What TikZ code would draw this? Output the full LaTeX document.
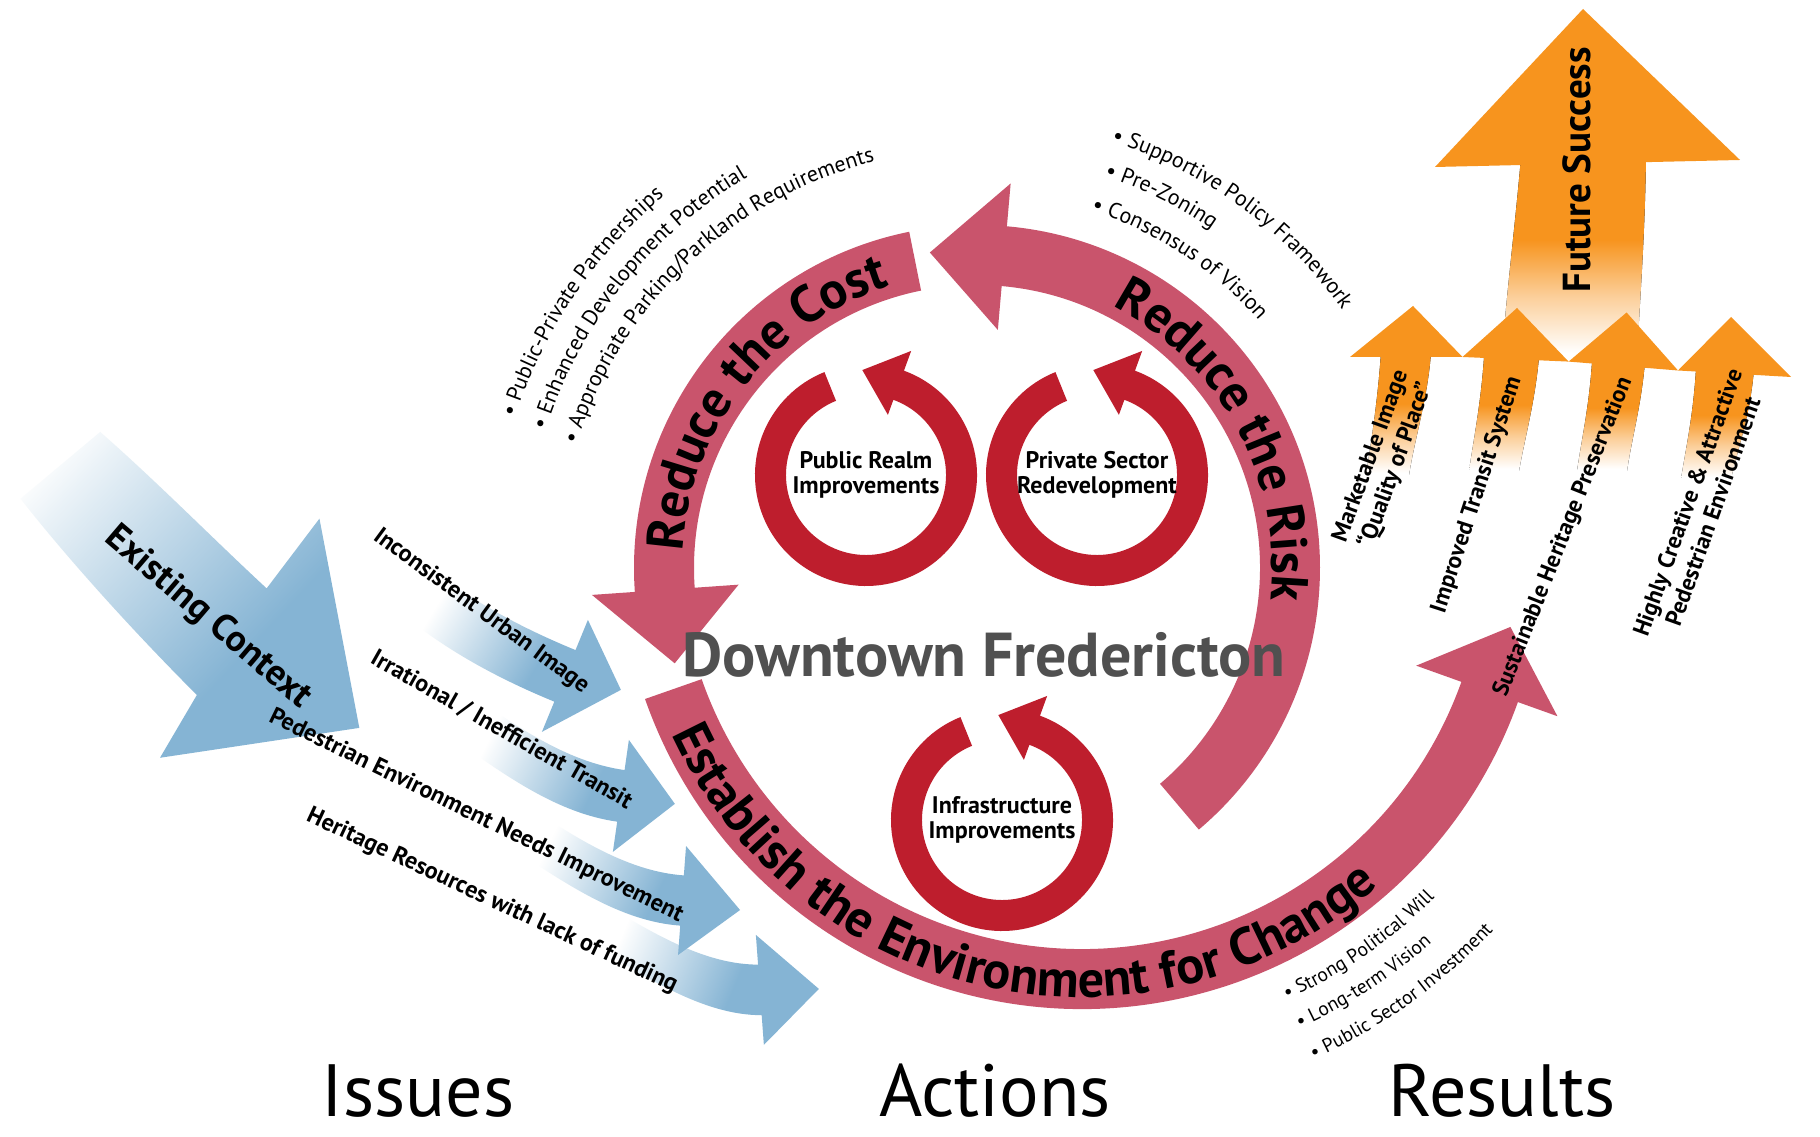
\documentclass[tikz,border=0pt]{standalone}
\usepackage{fontspec}
\setmainfont{PT Sans}
\usetikzlibrary{decorations.text,fadings}
\definecolor{pinkband}{RGB}{201,84,108}
\definecolor{ringred}{RGB}{190,30,45}
\definecolor{issueblue}{RGB}{133,180,212}
\definecolor{resorange}{RGB}{247,148,30}
\definecolor{towngray}{RGB}{80,80,80}
\pgfdeclareverticalshading{bluemaskS}{100bp}{color(0bp)=(black); color(30bp)=(black); color(58bp)=(white); color(100bp)=(white)}
\pgfdeclarefading{bluefadeF}{\pgfuseshading{bluemaskS}}
\pgfdeclareverticalshading{bigmaskS}{100bp}{color(0bp)=(black); color(20bp)=(black); color(27bp)=(black!82); color(62bp)=(white); color(100bp)=(white)}
\pgfdeclarefading{bigfadeF}{\pgfuseshading{bigmaskS}}
\pgfdeclareverticalshading{orangefade}{100bp}{color(0bp)=(white); color(26bp)=(white); color(40bp)=(resorange!45!white); color(54bp)=(resorange); color(100bp)=(resorange)}
\newcommand\bandfont{\fontsize{52}{52}\selectfont\bfseries}
\newcommand\listfont{\fontsize{22}{23}\selectfont}
\newcommand\blistfont{\fontsize{19.5}{20}\selectfont}
\tikzset{
  pinkarrow/.style={fill=pinkband},
  ringarrow/.style={fill=ringred},
  bluearrow/.style={fill=issueblue, path fading=bluefadeF},
  bigbluearrow/.style={fill=issueblue, path fading=bigfadeF},
  orangeshaft/.style={shading=orangefade},
  orangehead/.style={fill=resorange},
  ringlabel/.style={font=\bfseries\fontsize{24}{25}\selectfont, align=center, inner sep=0},
  issuelabel/.style={font=\bfseries\fontsize{24}{24}\selectfont, inner sep=0},
  reslabel/.style={font=\bfseries\fontsize{23.5}{27}\selectfont, align=center, inner sep=0},
  colhead/.style={font=\fontsize{74}{74}\selectfont, anchor=base, inner sep=0, text depth=0pt},
  bandtext/.style={decorate, decoration={text along path, text align=center, text={|\bandfont|#1}}},
  listtext/.style={decorate, decoration={text along path, text align=left, text={|\listfont|#1}}},
  blisttext/.style={decorate, decoration={text along path, text align=left, text={|\blistfont|#1}}},
}
\begin{document}
\begin{tikzpicture}[x=1pt,y=1pt]
\useasboundingbox[fill=white] (0,0) rectangle (1820,1137);
\coordinate (C1) at (977,569);
\coordinate (C2) at (1082,591);

% ---------------- orange result arrows
\fill[orangeshaft] (1521,980) -- (1646,982) .. controls (1645,900) and (1640,840) .. (1637,780) -- (1502,780) .. controls (1506,840) and (1515,910) .. (1521,980) -- cycle;
\fill[orangehead] (1435,970) -- (1583,1128) -- (1740,977) -- cycle;
\fill[orangeshaft] (1381,785) -- (1431,785) .. controls (1428,740) and (1415,700) .. (1409,662) -- (1366,662) .. controls (1372,700) and (1378,740) .. (1381,785) -- cycle;
\fill[orangeshaft] (1484,780) -- (1539,780) .. controls (1535,735) and (1525,700) .. (1519,666) -- (1469,666) .. controls (1474,700) and (1481,735) .. (1484,780) -- cycle;
\fill[orangeshaft] (1592,775) -- (1645,775) .. controls (1641,730) and (1632,700) .. (1627,666) -- (1577,666) .. controls (1582,700) and (1589,730) .. (1592,775) -- cycle;
\fill[orangeshaft] (1696,768) -- (1754,768) .. controls (1750,720) and (1738,690) .. (1731,658) -- (1681,658) .. controls (1686,690) and (1693,720) .. (1696,768) -- cycle;
\fill[orangehead] (1350,780) -- (1413,831) -- (1462.5,780) -- cycle;
\fill[orangehead] (1462.5,780) -- (1517,829) -- (1568.6,775.4) -- cycle;
\fill[orangehead] (1568.6,775.4) -- (1626.6,824.5) -- (1678,766.5) -- cycle;
\fill[orangehead] (1678,766.5) -- (1731,820) -- (1791,760) -- cycle;

% ---------------- blue issue arrows
\fill[bigbluearrow, fading angle=-132] (100,704) .. controls (157,654) and (213,597) .. (267,547) -- (320,617) -- (360,407) -- (160,377) -- (197,440) .. controls (133,504) and (67,577) .. (20,637) -- cycle;
\fill[bluearrow, fading angle=-115] (420.6,576.8) .. controls +(-40:60) and +(157.7:60) .. (575.6,486.8) -- (588,517) -- (621,447) -- (542,405) -- (554.4,435.2) .. controls +(157.7:60) and +(-40:60) .. (399.4,525.2) -- cycle;
\fill[bluearrow, fading angle=-110] (464.7,446.8) .. controls +(-35:60) and +(172:60) .. (624.7,366.8) -- (629,397) -- (675,333) -- (613,285) -- (617.3,315.2) .. controls +(172:60) and +(-35:60) .. (457.3,395.2) -- cycle;
\fill[bluearrow, fading angle=-108] (518.8,336.6) .. controls +(-33:60) and +(176:60) .. (683.8,261.6) -- (686,291) -- (740,227) -- (678,182) -- (680.2,211.4) .. controls +(176:60) and +(-33:60) .. (515.2,286.4) -- cycle;
\fill[bluearrow, fading angle=-105] (588.2,242.3) .. controls +(-30:60) and +(180:60) .. (758.2,172.3) -- (756,202) -- (819,148) -- (764,92) -- (761.8,121.7) .. controls +(180:60) and +(-30:60) .. (591.8,191.7) -- cycle;

% ---------------- pink action arrows
\begin{scope}[shift={(977,569)}]
\fill[pinkarrow] (101.4:343) arc[start angle=101.4, end angle=184, radius=343] -- (184:386) -- (197.5:317) -- (184:239) -- (184:283) arc[start angle=184, end angle=101.4, radius=283] -- cycle;
\fill[pinkarrow] (-49.7:343) arc[start angle=-49.7, end angle=85, radius=343] -- (85:386) -- (98.5:319) -- (85:239) -- (85:283) arc[start angle=85, end angle=-49.7, radius=283] -- cycle;
\end{scope}
\begin{scope}[shift={(1082,591)}]
\fill[pinkarrow] (199.3:463) arc[start angle=199.3, end angle=340.3, radius=463] -- (340.3:505) -- (349.3:436) -- (340.3:355) -- (340.3:403) arc[start angle=340.3, end angle=199.3, radius=403] -- cycle;
\end{scope}

% ---------------- red cycles
\fill[ringarrow, shift={(866,662)}] (112:111) arc[start angle=112, end angle=430, radius=111] -- (430:132) -- (452:105) -- (430:64) -- (430:80) arc[start angle=430, end angle=112, radius=80] -- cycle;
\fill[ringarrow, shift={(1097,662)}] (112:111) arc[start angle=112, end angle=430, radius=111] -- (430:132) -- (452:105) -- (430:64) -- (430:80) arc[start angle=430, end angle=112, radius=80] -- cycle;
\fill[ringarrow, shift={(1002,317)}] (112:111) arc[start angle=112, end angle=430, radius=111] -- (430:132) -- (452:105) -- (430:64) -- (430:80) arc[start angle=430, end angle=112, radius=80] -- cycle;

% ---------------- band texts
\path[bandtext={Reduce the Cost}] (C1) ++(212:295) arc[start angle=212, end angle=72, radius=295];
\path[bandtext={Reduce the Risk}] (C1) ++(98.3:295) arc[start angle=98.3, end angle=-41.7, radius=295];
\path[bandtext={Establish the Environment for Change}] (C2) ++(167.9:451) arc[start angle=167.9, end angle=347.9, radius=451];

% ---------------- bullet lists
\path[listtext={• Public-Private Partnerships}] (C1) ++(162:486) arc[start angle=162, end angle=60, radius=486];
\path[listtext={• Enhanced Development Potential}] (C1) ++(162.3:453) arc[start angle=162.3, end angle=60, radius=453];
\path[listtext={• Appropriate Parking/Parkland Requirements}] (C1) ++(162.9:419) arc[start angle=162.9, end angle=40, radius=419];
\path[listtext={• Supportive Policy Framework}] (C1) ++(72.5:447) arc[start angle=72.5, end angle=-10, radius=447];
\path[listtext={• Pre-Zoning}] (C1) ++(72:412) arc[start angle=72, end angle=0, radius=412];
\path[listtext={• Consensus of Vision}] (C1) ++(72.3:375) arc[start angle=72.3, end angle=0, radius=375];
\path[blisttext={• Strong Political Will}] (C2) ++(-65.7:498) arc[start angle=-65.7, end angle=10, radius=498];
\path[blisttext={• Long-term Vision}] (C2) ++(-65.7:529) arc[start angle=-65.7, end angle=10, radius=529];
\path[blisttext={• Public Sector Investment}] (C2) ++(-65.7:563) arc[start angle=-65.7, end angle=10, radius=563];

% ---------------- labels
\node[ringlabel] (pub) at (866,662) {Public Realm\\Improvements};
\node[ringlabel] (priv) at (1097,662) {Private Sector\\Redevelopment};
\node[ringlabel] (infra) at (1002,317) {Infrastructure\\Improvements};
\node[anchor=base, text=towngray, font=\bfseries\fontsize{62}{62}\selectfont, inner sep=0] (dt) at (984,460) {Downtown Fredericton};

\node[font=\bfseries\fontsize{37}{37}\selectfont, rotate=-40.5, inner sep=0] (ctx) at (208,519) {Existing Context};
\node[issuelabel, rotate=-36.3] (i1) at (481,525.5) {Inconsistent Urban Image};
\node[issuelabel, rotate=-29.6] (i2) at (501.5,407) {Irrational / Inefficient Transit};
\node[issuelabel, rotate=-26] (i3) at (476,321) {Pedestrian Environment Needs Improvement};
\node[issuelabel, rotate=-25] (i4) at (492,236) {Heritage Resources with lack of funding};

\node[font=\bfseries\fontsize{39}{39}\selectfont, rotate=90, inner sep=0] (fs) at (1577,967) {Future Success};
\node[reslabel, rotate=70] (r1) at (1384,676) {Marketable Image\\“Quality of Place”};
\node[reslabel, rotate=72] (r2) at (1477,642) {Improved Transit System};
\node[reslabel, rotate=68.4] (r3) at (1563.5,600) {Sustainable Heritage Preservation};
\node[reslabel, rotate=70.3] (r4) at (1700,630) {Highly Creative \& Attractive\\Pedestrian Environment};

\node[colhead] (issues) at (418,20) {Issues};
\node[colhead] (actions) at (995,20) {Actions};
\node[colhead] (results) at (1502,20) {Results};
\end{tikzpicture}
\end{document}
